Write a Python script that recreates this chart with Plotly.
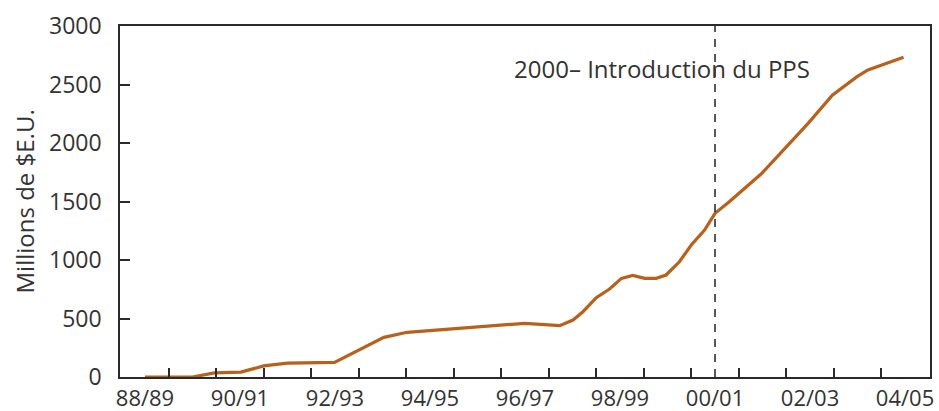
import plotly.graph_objects as go

# Fiscal-year index: 0 = 88/89, 1 = 89/90, ... 16 = 04/05
x_pos = [0.0, 1.0, 1.46, 2.02, 2.5, 3.0, 3.99, 5.03, 5.52, 8.0, 8.73,
         9.01, 9.22, 9.5, 9.78, 10.03, 10.27, 10.52, 10.76, 10.97, 11.25,
         11.5, 11.78, 12.0, 12.3, 12.97, 13.96, 14.47, 14.99, 15.22, 15.97]
values = [0, 0, 35, 42, 95, 118, 125, 339, 382, 459, 439,
          487, 558, 678, 752, 843, 869, 843, 843, 872, 985,
          1128, 1256, 1399, 1498, 1735, 2168, 2408, 2567, 2624, 2732]

tick_pos = [0, 2, 4, 6, 8, 10, 12, 14, 16]
tick_labels = ["88/89", "90/91", "92/93", "94/95", "96/97",
               "98/99", "00/01", "02/03", "04/05"]
minor_pos = [i + 0.5 for i in range(16)]
y_ticks = [0, 500, 1000, 1500, 2000, 2500, 3000]

event_x = 12
event_label = "2000\u2013 Introduction du PPS"
y_title = "Millions de $E.U."

FONT = "Open Sans"
TXT = "#333333"
AX = "#2a2a2a"
FS = 23

fig = go.Figure()
fig.add_trace(go.Scatter(x=x_pos, y=values, mode="lines",
                         line=dict(color="#B8611C", width=3.2),
                         hoverinfo="skip", showlegend=False))

fig.add_shape(type="line", xref="x", yref="paper", x0=event_x, x1=event_x,
              y0=0, y1=1, line=dict(color="#222222", width=1.5, dash="8px,7px"))

fig.add_annotation(x=7.72, y=2641, xref="x", yref="y", text=event_label,
                   showarrow=False, xanchor="left", yanchor="middle",
                   font=dict(family=FONT, size=24, color=TXT))

fig.add_annotation(x=0, xshift=-96, y=0.5, xref="paper", yref="paper",
                   text=y_title, textangle=-90, showarrow=False,
                   xanchor="center", yanchor="middle",
                   font=dict(family=FONT, size=24, color=TXT))

fig.update_layout(
    width=939, height=411,
    margin=dict(l=120, r=9, t=26, b=34),
    paper_bgcolor="white", plot_bgcolor="white",
    font=dict(family=FONT, size=FS, color=TXT),
)

fig.update_xaxes(range=[-0.526, 16.526], tickmode="array", tickvals=tick_pos,
                 ticktext=tick_labels, ticks="", showgrid=False, zeroline=False,
                 showline=True, linecolor=AX, linewidth=1.5, mirror=True,
                 automargin=False, ticklabelstandoff=1,
                 tickfont=dict(family=FONT, size=22, color=TXT),
                 minor=dict(tickmode="array", tickvals=minor_pos, ticks="inside",
                            ticklen=9, tickwidth=1.5, tickcolor=AX, showgrid=False))
fig.update_yaxes(range=[0, 3000], tickmode="array", tickvals=y_ticks,
                 ticks="inside", ticklen=10, tickwidth=1.5, tickcolor=AX,
                 showgrid=False, zeroline=False, showline=True, linecolor=AX,
                 linewidth=1.5, mirror=True, ticklabelstandoff=12,
                 automargin=False,
                 tickfont=dict(family=FONT, size=FS, color=TXT))

fig.write_html("out.html", config={"displayModeBar": False},
               post_script="document.body.style.margin='0';document.body.style.overflow='hidden';")
